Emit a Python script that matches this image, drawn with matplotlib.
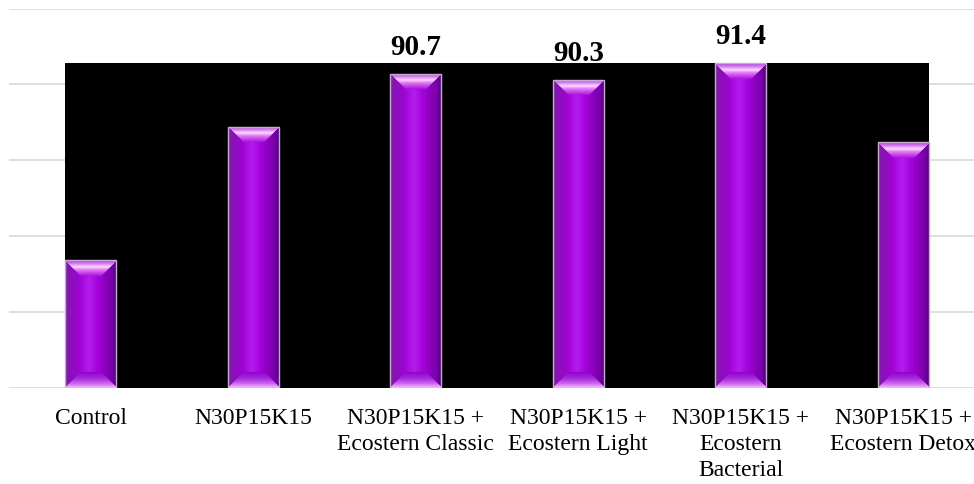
import numpy as np
import matplotlib
matplotlib.use("Agg")
import matplotlib.pyplot as plt
from matplotlib.patches import Rectangle
from matplotlib.colors import LinearSegmentedColormap

categories = [
    "Control",
    "N30P15K15",
    "N30P15K15 +\nEcostern Classic",
    "N30P15K15 +\nEcostern Light",
    "N30P15K15 +\nEcostern\nBacterial",
    "N30P15K15 +\nEcostern Detox",
]
values = [78.4, 87.2, 90.7, 90.3, 91.4, 86.2]
show_value = [False, False, True, True, True, False]
y_ticks = [70, 75, 80, 85, 90, 95]

plt.rcParams["font.family"] = ["Liberation Serif", "DejaVu Serif"]

W, H, DPI = 974, 485, 100
fig = plt.figure(figsize=(W / DPI, H / DPI), dpi=DPI)
fig.patch.set_facecolor("white")
ax = fig.add_axes([9.2 / W, 96 / H, 975.6 / W, 379.5 / H])
ax.set_xlim(-0.5, len(categories) - 0.5)
ax.set_ylim(y_ticks[0], y_ticks[-1])

x = np.arange(len(categories))
bar_w = 0.314
bars = ax.bar(x, [v - y_ticks[0] for v in values], bottom=y_ticks[0], width=bar_w,
              color="none", edgecolor="#c8aad6", linewidth=1.0, zorder=6)

# dark backdrop spanning the bars, topped at the tallest bar
left_edge = bars[0].get_x()
right_edge = bars[-1].get_x() + bars[-1].get_width()
ax.add_patch(Rectangle((left_edge, y_ticks[0]), right_edge - left_edge,
                       max(values) - y_ticks[0], facecolor="black",
                       edgecolor="none", zorder=4))


def ramp(stops):
    return LinearSegmentedColormap.from_list("r", stops)


body_cmap = ramp([(0.0, "#6e2a96"), (0.06, "#8a08ba"), (0.25, "#a000d6"),
                  (0.47, "#b41cee"), (0.62, "#a404dc"), (0.88, "#8c00c0"),
                  (1.0, "#5a0084")])
top_cmap = ramp([(0.0, "#b040e0"), (0.2, "#d880f4"), (0.4, "#fcd8ff"),
                 (0.58, "#e27af4"), (1.0, "#a608dc")])
bot_cmap = ramp([(0.0, "#f0b8fa"), (0.25, "#cc68ee"), (0.55, "#a82ce0"),
                 (1.0, "#9000c4")])
side_l = ramp([(0.0, "#7a30a0"), (1.0, "#9a04cc")])
side_r = ramp([(0.0, "#50007c"), (1.0, "#9000c0")])


def bevel_image(w, h, b):
    img = np.zeros((h, w, 4))
    jj, ii = np.meshgrid(np.arange(w), np.arange(h))
    d_top = ii
    d_bot = h - 1 - ii
    d_l = jj
    d_r = w - 1 - jj
    u = jj / max(w - 1, 1)
    img[:] = body_cmap(u)
    # side strips
    ml = (d_l < b) & (d_l <= d_r)
    img[ml] = 0.4 * side_l(d_l[ml] / b) + 0.6 * body_cmap(u[ml])
    mr = (d_r < b) & (d_r < d_l)
    img[mr] = 0.4 * side_r(d_r[mr] / b) + 0.6 * body_cmap(u[mr])
    # top and bottom trapezoids
    mt = (d_top < b) & (d_top <= d_l) & (d_top <= d_r)
    img[mt] = top_cmap(d_top[mt] / b)
    mb = (d_bot < b) & (d_bot <= d_l) & (d_bot <= d_r)
    img[mb] = bot_cmap(d_bot[mb] / b)
    img[..., 3] = 1.0
    return img


to_px = ax.transData
for bar in bars:
    x0, y0 = bar.get_x(), bar.get_y()
    x1, y1 = x0 + bar.get_width(), y0 + bar.get_height()
    (px0, py0), (px1, py1) = to_px.transform([(x0, y0), (x1, y1)])
    wp = max(int(round(px1 - px0)), 2)
    hp = max(int(round(py1 - py0)), 2)
    img = bevel_image(wp, hp, 16)
    im = ax.imshow(img, extent=(x0, x1, y0, y1), origin="upper", aspect="auto",
                   interpolation="bilinear", zorder=5)
    im.set_clip_path(bar)

for xi, v, s in zip(x, values, show_value):
    if s:
        ax.annotate(f"{v:.1f}", (xi, v), xytext=(0, 10), textcoords="offset points",
                    ha="center", va="bottom", fontsize=21, fontweight="bold",
                    color="black", zorder=3)

ax.set_yticks(y_ticks)
ax.set_yticklabels([])
ax.grid(axis="y", color="#d9d9d9", linewidth=1.2, zorder=0)
ax.set_axisbelow(True)
ax.set_xticks(x)
ax.set_xticklabels(categories, fontsize=17, linespacing=1.3)
ax.tick_params(axis="both", length=0)
ax.tick_params(axis="x", pad=14)
for sp in ax.spines.values():
    sp.set_visible(False)

fig.savefig("out.png", dpi=DPI, facecolor="white")
